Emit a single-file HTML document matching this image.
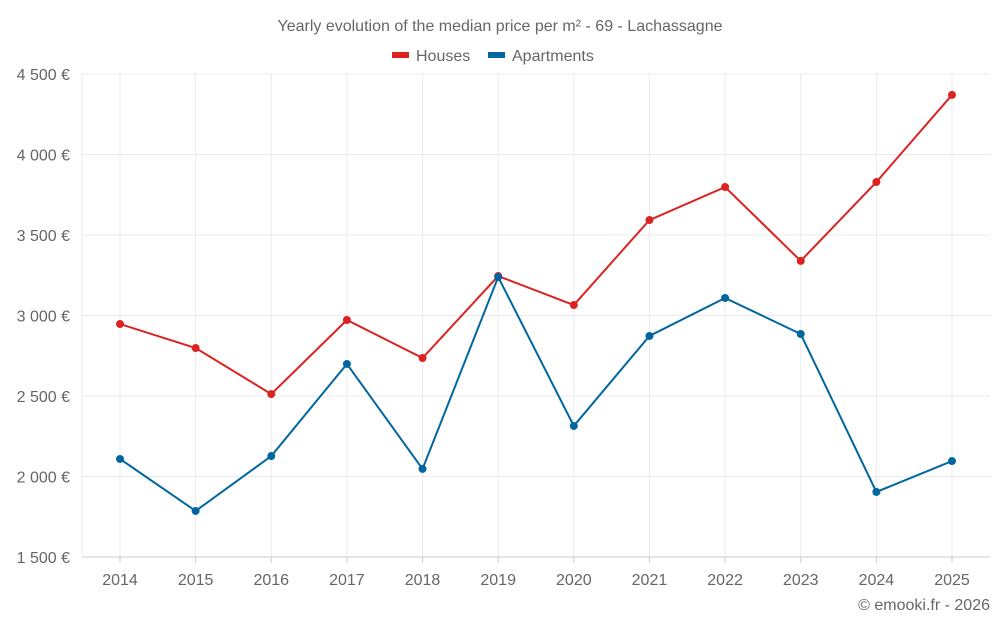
<!DOCTYPE html>
<html><head><meta charset="utf-8"><style>
body{margin:0;background:#fff;font-family:"Liberation Sans",sans-serif}
svg text{font-family:"Liberation Sans",sans-serif;fill:#666}
</style></head><body>
<svg id="chart" width="1000" height="625" xmlns="http://www.w3.org/2000/svg">
<text x="500" y="31" text-anchor="middle" font-size="16">Yearly evolution of the median price per m² - 69 - Lachassagne</text>
<g><rect x="392" y="52" width="17" height="6" fill="#dd2222"/><text x="416" y="61" font-size="16">Houses</text></g>
<g><rect x="488" y="52" width="17" height="6" fill="#0066a0"/><text x="512" y="61" font-size="16">Apartments</text></g>
<g id="grid"></g><g id="axes"></g><g id="series"></g>
<text x="990" y="610" text-anchor="end" font-size="16">© emooki.fr - 2026</text>
</svg>
<script>
const years=["2014","2015","2016","2017","2018","2019","2020","2021","2022","2023","2024","2025"];
const houses=[2947,2798,2512,2972,2736,3245,3065,3593,3798,3339,3829,4370];
const apartments=[2109,1786,2127,2699,2047,3239,2314,2873,3109,2885,1904,2096];
const yTicks=[1500,2000,2500,3000,3500,4000,4500];
const yTickLabels=["1 500 €","2 000 €","2 500 €","3 000 €","3 500 €","4 000 €","4 500 €"];
const L=82,R=990,T=74,B=557,NS="http://www.w3.org/2000/svg";
const y=v=>B-(v-1500)/3000*(B-T);
const x=i=>120+i*(952-120)/(years.length-1);
function mk(tag,at,parent){const e=document.createElementNS(NS,tag);for(const k in at)e.setAttribute(k,at[k]);document.getElementById(parent).appendChild(e);return e;}
yTicks.forEach((v,i)=>{
 const g=mk('line',{x1:L,x2:R,y1:y(v),y2:y(v),stroke:'#ebebeb'},'grid');
 
 
 const t=mk('text',{x:70,y:y(v)+6,'text-anchor':'end','font-size':16},'axes');
 t.textContent=yTickLabels[i];
 
 
});
years.forEach((yr,i)=>{
 const g=mk('line',{x1:x(i),x2:x(i),y1:T,y2:B,stroke:'#ebebeb'},'grid');
 
 
 const k=mk('line',{x1:x(i),x2:x(i),y1:B,y2:B+6,stroke:'#ccc'},'axes');
 
 
 const t=mk('text',{x:x(i),y:585,'text-anchor':'middle','font-size':16},'axes');
 t.textContent=yr;
 
 
});
const ax=mk('line',{x1:L,x2:R,y1:B,y2:B,stroke:'#ccc'},'axes');


const ay=mk('line',{x1:L,x2:L,y1:T,y2:B,stroke:'#ebebeb'},'axes');


[[houses,'#dd2222','houses'],[apartments,'#0066a0','apartments']].forEach(([d,c,n])=>{
 const p=mk('polyline',{points:d.map((v,i)=>x(i)+','+y(v)).join(' '),fill:'none',stroke:c,'stroke-width':2},'series');
 
 
 d.forEach((v,i)=>{
  const m=mk('circle',{cx:x(i),cy:y(v),r:4,fill:c},'series');
  
  
 });
});
</script>
</body></html>
